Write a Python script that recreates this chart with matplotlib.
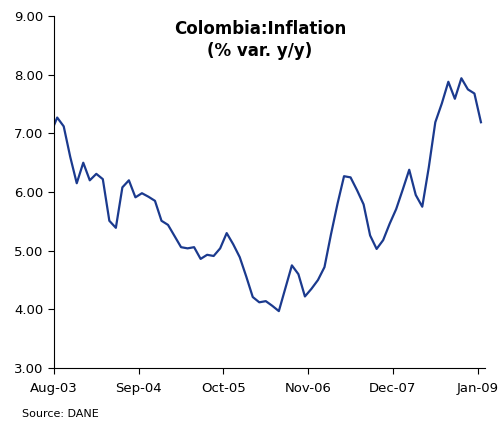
import matplotlib.pyplot as plt

# monthly y/y inflation, Jul-03 .. Jan-09
values = [7.00, 7.27, 7.12, 6.60, 6.15, 6.50,
          6.20, 6.31, 6.22, 5.51, 5.39, 6.08, 6.20, 5.91, 5.98, 5.92, 5.85, 5.51,
          5.44, 5.25, 5.06, 5.04, 5.06, 4.86, 4.93, 4.91, 5.04, 5.30, 5.11, 4.89,
          4.56, 4.21, 4.12, 4.14, 4.06, 3.97, 4.36, 4.75, 4.60, 4.22, 4.35, 4.50,
          4.72, 5.28, 5.80, 6.27, 6.25, 6.03, 5.79, 5.26, 5.03, 5.18, 5.46, 5.71,
          6.04, 6.38, 5.95, 5.75, 6.42, 7.19, 7.51, 7.88, 7.59, 7.94, 7.75, 7.68,
          7.19]
tick_labels = ["Aug-03", "Sep-04", "Oct-05", "Nov-06", "Dec-07", "Jan-09"]
y_ticks = [3, 4, 5, 6, 7, 8, 9]

# x in months since Aug-03, points centred between ticks
x = [i - 0.5 for i in range(len(values))]

fig = plt.figure(figsize=(5.04, 4.23), dpi=100)
ax = fig.add_axes([0.107, 0.130, 0.855, 0.832])

ax.plot(x, values, color='#1b3a8e', linewidth=1.6)

ax.set_xlim(0, 66.1)
ax.set_ylim(3, 9)
ax.set_xticks(range(0, 66, 13))
ax.set_xticklabels(tick_labels)
ax.set_yticks(y_ticks)
ax.set_yticklabels(["{:.2f}".format(v) for v in y_ticks])

for s in ['top', 'right']:
	ax.spines[s].set_visible(False)
ax.tick_params(axis='both', labelsize=9.5, direction='out', length=4, width=0.8, color='black')
ax.tick_params(axis='x', pad=6)

ax.text(0.478, 0.99, "Colombia:Inflation\n(% var. y/y)", transform=ax.transAxes,
	ha='center', va='top', fontsize=12, fontweight='bold', linespacing=1.3)

fig.text(0.044, 0.022, "Source: DANE", fontsize=8, ha='left', va='center')

plt.savefig("out.png", dpi=100)
